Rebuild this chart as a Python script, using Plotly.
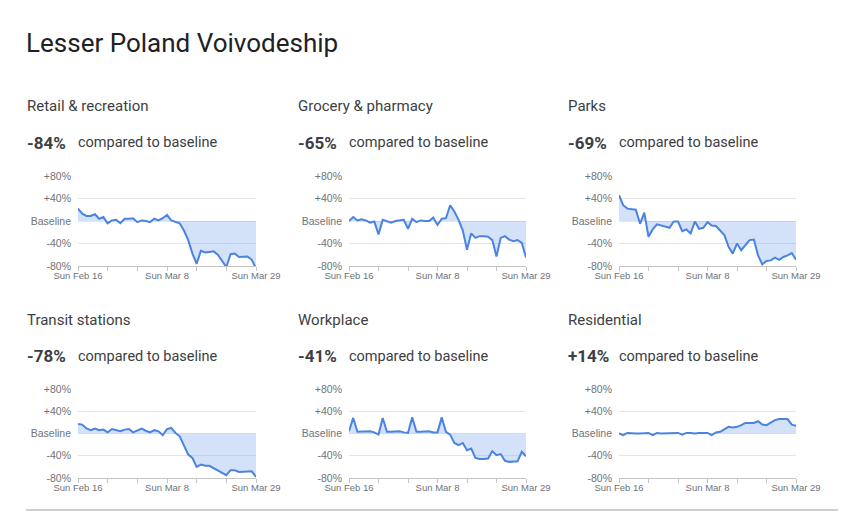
import plotly.graph_objects as go
import pandas as pd

W, H = 852, 519
PAGE = 8  # default body margin of the html page

title = "Lesser Poland Voivodeship"
dates = pd.date_range("2020-02-16", "2020-03-29", freq="D")
tick_dates = ["2020-02-16", "2020-02-23", "2020-03-01", "2020-03-08", "2020-03-15", "2020-03-22", "2020-03-29"]
tick_text = ["Sun Feb 16", "", "", "Sun Mar 8", "", "", "Sun Mar 29"]
y_tickvals = [-80, -40, 0, 40, 80]
y_ticktext = ["-80%", "-40%", "Baseline", "+40%", "+80%"]

categories = ["Retail & recreation", "Grocery & pharmacy", "Parks",
              "Transit stations", "Workplace", "Residential"]
headlines = ["-84%", "-65%", "-69%", "-78%", "-41%", "+14%"]

retail = [22, 13, 9, 9, 12, 4, 7, -4, 1, 2, -4, 4, 4, 5, -2, 1, 0, -2, 4, 1, 5, 11,
          1, -1, -4, -17, -34, -58, -76, -53, -56, -55, -54, -60, -70, -82, -59, -58,
          -64, -63, -63, -69, -84]
grocery = [0, 7, 1, 3, 1, -3, -1, -24, 2, -1, -3, 0, 1, 2, -14, 4, -2, 1, 0, 0, 6, -7,
           4, 5, 28, 17, 2, -17, -51, -22, -30, -27, -27, -28, -34, -63, -30, -27,
           -33, -36, -34, -39, -65]
parks = [46, 28, 22, 21, 20, -5, 15, -28, -15, -6, -8, -9, -12, -1, -1, -18, -15, -22,
         -1, -14, -12, -2, -8, -9, -18, -25, -46, -58, -40, -52, -43, -34, -33, -61,
         -77, -71, -70, -65, -69, -64, -61, -57, -69]
transit = [17, 16, 9, 6, 9, 6, 7, 2, 8, 6, 4, 7, 8, 2, 6, 9, 5, 2, 6, 4, -3, 8, 10, 1,
           -5, -23, -38, -44, -60, -56, -58, -58, -62, -66, -71, -75, -66, -66, -69,
           -69, -69, -68, -78]
workplace = [4, 28, 3, 3, 3, 4, 2, -2, 28, 3, 3, 3, 4, 2, 1, 29, 3, 3, 4, 4, 2, 2, 29,
             3, -2, -17, -21, -17, -30, -27, -44, -46, -46, -45, -32, -39, -37, -49,
             -51, -51, -50, -33, -41]
residential = [0, -3, 1, 0, 0, 0, 1, 1, -3, 1, 0, 0, 0, 1, 1, -2, 1, 1, 0, 1, 1, 1, -3,
               2, 3, 8, 12, 11, 12, 15, 19, 19, 19, 22, 16, 15, 19, 24, 26, 26, 26, 16, 14]

series = [retail, grocery, parks, transit, workplace, residential]

LINE = "#4a84e0"
FILL = "rgba(74,134,232,0.24)"
GRID = "#e6e6e6"
AXIS = "#c4c4c4"
XTICKFONT = dict(family="Liberation Sans, Arial, sans-serif", size=9.5, color="#6f7377")
YTICKFONT = dict(family="Liberation Sans, Arial, sans-serif", size=10.5, color="#6f7377")
TEXTFONT = "Roboto, Open Sans, sans-serif"

col_x = [(78, 256), (349, 526), (619, 796)]
row_y = [(176, 266), (389, 478)]
text_x = [25, 296, 566]
cat_y = [106, 320]
head_y = [143, 356]


def px(x):
    return (x - PAGE) / W


def py(y):
    return 1 - (y - PAGE) / H


fig = go.Figure()
annotations = []

for i, (cat, head, vals) in enumerate(zip(categories, headlines, series)):
    r, c = divmod(i, 3)
    xa = "x" if i == 0 else f"x{i+1}"
    ya = "y" if i == 0 else f"y{i+1}"
    fig.add_trace(go.Scatter(x=dates, y=[0] * len(dates), mode="lines",
                             line=dict(width=0, color=FILL), hoverinfo="skip",
                             showlegend=False, xaxis=xa, yaxis=ya))
    fig.add_trace(go.Scatter(x=dates, y=vals, mode="lines", fill="tonexty",
                             fillcolor=FILL, line=dict(color=LINE, width=2),
                             showlegend=False, xaxis=xa, yaxis=ya))
    x0, x1 = col_x[c]
    y0, y1 = row_y[r]
    xkey = "xaxis" if i == 0 else f"xaxis{i+1}"
    ykey = "yaxis" if i == 0 else f"yaxis{i+1}"
    fig.update_layout(**{
        xkey: dict(domain=[px(x0), px(x1)], anchor=ya, automargin=False,
                   range=[dates[0], dates[-1]], tickvals=tick_dates, ticktext=tick_text,
                   showgrid=False, showline=True, linecolor=AXIS, linewidth=1,
                   ticks="outside", ticklen=4, tickcolor=AXIS, tickfont=XTICKFONT,
                   ticklabelstandoff=-3, zeroline=False, fixedrange=True),
        ykey: dict(domain=[py(y1), py(y0)], anchor=xa, automargin=False,
                   range=[-80, 80], tickvals=y_tickvals, ticktext=y_ticktext,
                   showgrid=True, gridcolor=GRID, gridwidth=1, zeroline=False,
                   showline=False, tickfont=YTICKFONT, ticks="", ticklabelstandoff=6,
                   fixedrange=True),
    })
    annotations.append(dict(x=px(text_x[c]), y=py(cat_y[r]), xref="paper", yref="paper",
                            text=cat, showarrow=False, xanchor="left", yanchor="middle",
                            font=dict(family=TEXTFONT, size=15, color="#3c4043")))
    annotations.append(dict(x=px(text_x[c]), y=py(head_y[r]), xref="paper", yref="paper",
                            text=f"<b>{head}</b>", showarrow=False, xanchor="left",
                            yanchor="middle",
                            font=dict(family=TEXTFONT, size=17, color="#3c4043")))
    annotations.append(dict(x=px(text_x[c] + 51), y=py(head_y[r]), xref="paper",
                            yref="paper", text="compared to baseline", showarrow=False,
                            xanchor="left", yanchor="middle",
                            font=dict(family=TEXTFONT, size=14.5, color="#3c4043")))

annotations.append(dict(x=px(24), y=py(43), xref="paper", yref="paper", text=title,
                        showarrow=False, xanchor="left", yanchor="middle",
                        font=dict(family=TEXTFONT, size=26, color="#202124")))

fig.update_layout(
    template="none",
    width=W, height=H,
    margin=dict(l=0, r=0, t=0, b=0, pad=0, autoexpand=False),
    paper_bgcolor="white", plot_bgcolor="white",
    annotations=annotations,
    shapes=[dict(type="line", xref="paper", yref="paper", x0=px(26), x1=px(838),
                 y0=py(510), y1=py(510), line=dict(color="#9e9e9e", width=1))],
    showlegend=False,
)

fig.write_html("out.html")
